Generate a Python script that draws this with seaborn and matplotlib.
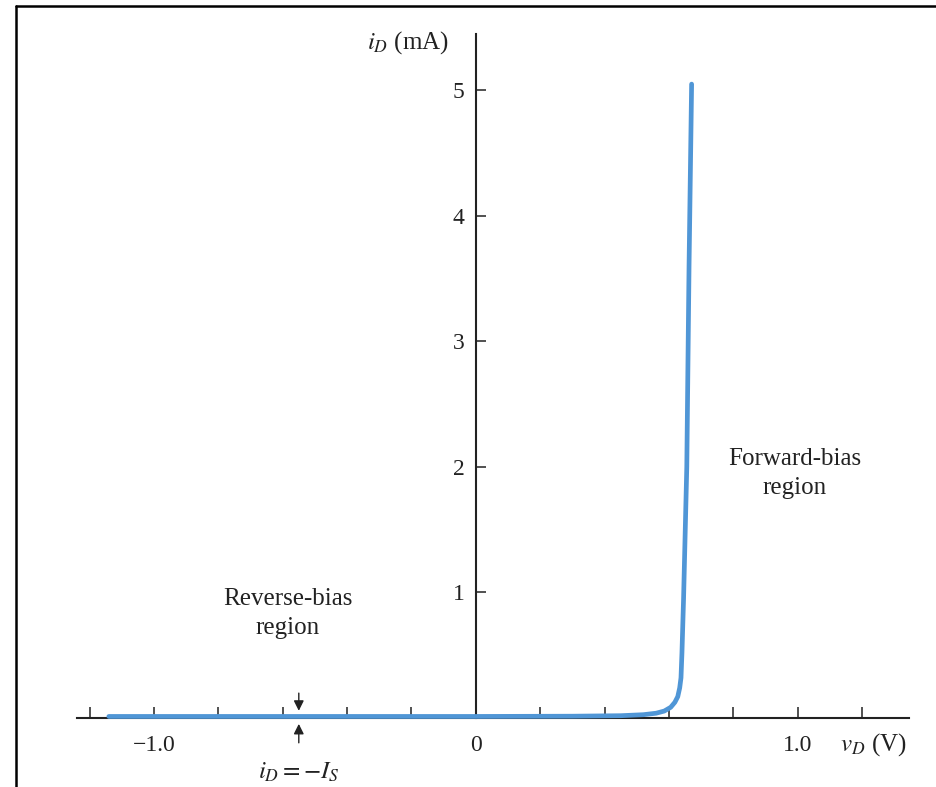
import numpy as np
import matplotlib
matplotlib.use('Agg')
import matplotlib.pyplot as plt
from matplotlib.lines import Line2D
import seaborn as sns

# diode i-v curve (volts, mA)
v_d = [-1.14, -0.6, 0.0, 0.3, 0.45, 0.52, 0.56, 0.585, 0.605, 0.618, 0.627,
       0.633, 0.637, 0.640, 0.645, 0.655, 0.662, 0.670]
i_d = [0.012, 0.012, 0.012, 0.014, 0.018, 0.026, 0.038, 0.055, 0.085, 0.125, 0.17,
       0.24, 0.32, 0.52, 0.95, 2.0, 3.6, 5.05]

x_ticks = [-1.2, -1.0, -0.8, -0.6, -0.4, -0.2, 0.0, 0.2, 0.4, 0.6, 0.8, 1.0, 1.2]
x_tick_labels = ['', '\u22121.0', '', '', '', '', '0', '', '', '', '', '1.0', '']
y_ticks = [1, 2, 3, 4, 5]
y_tick_labels = ['1', '2', '3', '4', '5']

sns.set_theme(style='white')
plt.rcParams['font.family'] = ['Liberation Serif', 'DejaVu Serif']
plt.rcParams['mathtext.fontset'] = 'stix'

fig = plt.figure(figsize=(9.36, 7.87), dpi=100)
ax = fig.add_axes([0, 0, 1, 1])
ax.patch.set_alpha(0)

sns.lineplot(x=v_d, y=i_d, ax=ax, color='#5096d6', linewidth=3.4,
             estimator=None, sort=False, zorder=3)

# axis limits chosen so that the axes cross where they do in the scan
ax.set_xlim(-1.478, 1.429)
ax.set_ylim(-0.55, 5.72)

for side in ['top', 'right']:
    ax.spines[side].set_visible(False)
ax.spines['left'].set_position(('data', 0))
ax.spines['bottom'].set_position(('data', 0))
ax.spines['left'].set_bounds(0, 5.45)
ax.spines['bottom'].set_bounds(-1.24, 1.345)
for side in ['left', 'bottom']:
    ax.spines[side].set_color('#222222')
    ax.spines[side].set_linewidth(1.5)
    ax.spines[side].set_zorder(2)

ax.set_xticks(x_ticks)
ax.set_xticklabels(x_tick_labels)
ax.set_yticks(y_ticks)
ax.set_yticklabels(y_tick_labels)
ax.tick_params(axis='x', direction='in', length=8, width=1.1, color='#222222',
               pad=12, labelsize=17, labelcolor='#222222')
ax.tick_params(axis='y', direction='in', length=7, width=1.1, color='#222222',
               pad=8, labelsize=17, labelcolor='#222222')
ax.tick_params(bottom=True, left=True)

ax.text(-0.21, 5.38, r'$i_D$ (mA)', fontsize=18, ha='center', va='center', color='#222222')
ax.text(1.235, -0.215, r'$v_D$ (V)', fontsize=18, ha='center', va='center', color='#222222')

ax.text(-0.585, 0.83, 'Reverse-bias\nregion', fontsize=18, ha='center', va='center',
        color='#222222', linespacing=1.4)
ax.text(0.99, 1.95, 'Forward-bias\nregion', fontsize=18, ha='center', va='center',
        color='#222222', linespacing=1.4)

# the two arrows pointing at the tiny reverse current
arrow = dict(arrowstyle='-|>', color='#222222', lw=1.0, mutation_scale=15)
ax.annotate('', xy=(-0.55, 0.035), xytext=(-0.55, 0.22), arrowprops=arrow)
ax.annotate('', xy=(-0.55, -0.025), xytext=(-0.55, -0.22), arrowprops=arrow)
ax.text(-0.55, -0.43, r'$i_D = -I_S$', fontsize=18, ha='center', va='center', color='#222222')

# page frame from the scan
fig.add_artist(Line2D([16 / 936, 16 / 936], [0, 1 - 6 / 787], color='black', lw=1.8,
                      transform=fig.transFigure))
fig.add_artist(Line2D([16 / 936, 1], [1 - 6 / 787, 1 - 6 / 787], color='black', lw=1.8,
                      transform=fig.transFigure))

fig.savefig('out.png', dpi=100)
